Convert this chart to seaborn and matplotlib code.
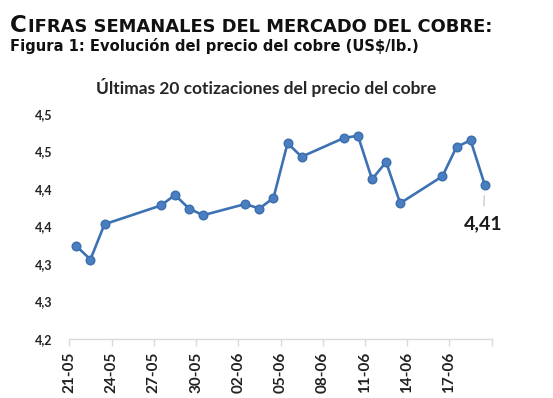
import matplotlib
matplotlib.use("Agg")
import matplotlib.pyplot as plt
import seaborn as sns
import pandas as pd

# ---- data ----
dates = ["2025-05-21", "2025-05-22", "2025-05-23", "2025-05-27", "2025-05-28",
         "2025-05-29", "2025-05-30", "2025-06-02", "2025-06-03", "2025-06-04",
         "2025-06-05", "2025-06-06", "2025-06-09", "2025-06-10", "2025-06-11",
         "2025-06-12", "2025-06-13", "2025-06-16", "2025-06-17", "2025-06-18",
         "2025-06-19"]
prices = [4.324, 4.306, 4.353, 4.378, 4.392, 4.374, 4.365, 4.380, 4.374, 4.388,
          4.461, 4.443, 4.468, 4.471, 4.413, 4.436, 4.381, 4.417, 4.456, 4.465,
          4.406]
x_ticks = ["2025-05-21", "2025-05-24", "2025-05-27", "2025-05-30", "2025-06-02",
           "2025-06-05", "2025-06-08", "2025-06-11", "2025-06-14", "2025-06-17",
           "2025-06-20"]
x_tick_labels = ["21-05", "24-05", "27-05", "30-05", "02-06", "05-06", "08-06",
                 "11-06", "14-06", "17-06", ""]
y_ticks = [4.20, 4.25, 4.30, 4.35, 4.40, 4.45, 4.50]
y_tick_labels = ["4,2", "4,3", "4,3", "4,4", "4,4", "4,5", "4,5"]
last_label = "4,41"

sns.set_theme(style="white")
plt.rcParams['font.family'] = ['Lato', 'DejaVu Sans']

df = pd.DataFrame({"fecha": pd.to_datetime(dates) + pd.Timedelta(hours=12),
                   "precio": prices})

W, H = 553, 398
fig = plt.figure(figsize=(W / 100, H / 100), dpi=100)
ax = fig.add_axes([69.3 / W, (H - 339) / H, (491.7 - 69.3) / W, 225 / H])

color = "#3C72B4"
sns.lineplot(data=df, x="fecha", y="precio", ax=ax, color=color, linewidth=1.9,
             marker="o", markersize=6.2, markeredgecolor="#3A6EAE",
             markerfacecolor="#4A7EC0", markeredgewidth=1.0)

ax.set_xlim(pd.Timestamp("2025-05-21"), pd.Timestamp("2025-06-20"))
ax.set_ylim(4.20, 4.50)
ax.set_xticks(pd.to_datetime(x_ticks))
ax.set_xticklabels(x_tick_labels, rotation=90, fontsize=11, fontweight="bold",
                   color="#222222")
ax.set_yticks(y_ticks)
ax.set_yticklabels(y_tick_labels, fontsize=9, fontweight="bold", color="#222222")
ax.set_xlabel("")
ax.set_ylabel("")

for s in ["top", "right", "left"]:
    ax.spines[s].set_visible(False)
ax.spines["bottom"].set_color("#D9D9D9")
ax.spines["bottom"].set_linewidth(1.0)
ax.tick_params(axis="x", which="major", direction="out", length=5, width=1,
               color="#D9D9D9", pad=4, bottom=True)
ax.tick_params(axis="y", length=0, pad=12)
ax.grid(False)

# data label on last point
last_x = df["fecha"].iloc[-1]
last_y = df["precio"].iloc[-1]
ax.annotate(last_label, xy=(last_x, last_y), xytext=(-1, -28),
            textcoords="offset points", ha="center", va="center",
            fontsize=14, fontweight="bold", color="#1a1a1a",
            arrowprops=dict(arrowstyle="-", color="#BFBFBF", lw=0.8,
                            shrinkA=4, shrinkB=8))

# headings
base1 = (H - 32.5) / H
t1 = fig.text(10 / W, base1, "C", fontsize=16.5, fontweight="bold",
              family="DejaVu Sans", color="#111111", va="baseline", ha="left")
fig.canvas.draw()
bb = t1.get_window_extent(renderer=fig.canvas.get_renderer())
fig.text((bb.x1 + 1) / W, base1, "IFRAS SEMANALES DEL MERCADO DEL COBRE:",
         fontsize=12.9, fontweight="bold", family="DejaVu Sans",
         color="#111111", va="baseline", ha="left")
fig.text(10 / W, (H - 51) / H,
         "Figura 1: Evolución del precio del cobre (US$/lb.)",
         fontsize=10.6, fontweight="bold", family="DejaVu Sans",
         color="#111111", va="baseline", ha="left")
fig.text(266 / W, (H - 94) / H,
         "Últimas 20 cotizaciones del precio del cobre",
         fontsize=12.5, fontweight="bold", color="#262626",
         va="baseline", ha="center")

fig.savefig("out.png", dpi=100)
